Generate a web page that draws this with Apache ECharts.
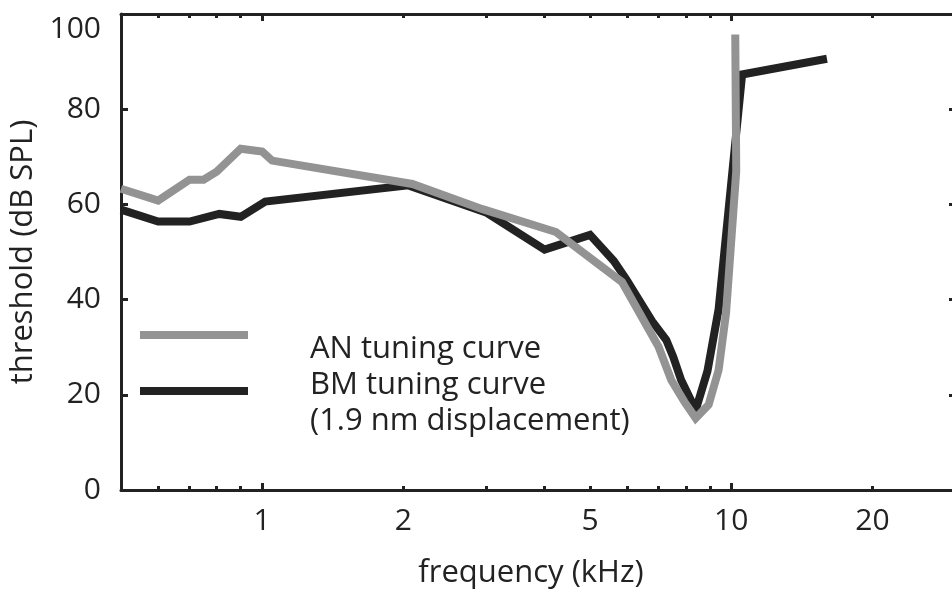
<!DOCTYPE html>
<html>
<head>
<meta charset="utf-8">
<script src="https://cdn.jsdelivr.net/npm/echarts@6/dist/echarts.min.js"></script>
<style>html,body{margin:0;padding:0;background:#fff}#c{width:952px;height:599px}</style>
</head>
<body>
<div id="c"></div>
<script>
// frequency in kHz, threshold in dB SPL
const anFreq = [0.5, 0.6, 0.7, 0.75, 0.8, 0.9, 1.0, 1.05, 2.09, 2.95, 4.23, 5.85, 7.0, 7.45, 7.95, 8.4, 8.95, 9.4, 9.75, 10.25, 10.2];
const anThr  = [63.3, 60.8, 65.2, 65.2, 66.9, 71.7, 71.1, 69.2, 64.3, 59.0, 54.2, 43.7, 30.1, 23.1, 18.5, 15.1, 17.9, 25.2, 37.2, 67.0, 95.7];
const bmFreq = [0.5, 0.6, 0.7, 0.81, 0.9, 1.015, 2.05, 3.0, 4.0, 5.0, 5.62, 5.98, 6.78, 7.27, 7.52, 7.82, 8.4, 8.9, 9.4, 10.55, 16.0];
const bmThr  = [58.9, 56.4, 56.4, 58.0, 57.4, 60.6, 64.0, 58.3, 50.5, 53.6, 48.1, 44.2, 35.5, 31.5, 28.0, 23.1, 16.8, 25.0, 38.0, 87.3, 90.6];
const xLabelValues = [1, 2, 5, 10, 20];
const xMinorTicks = [0.6, 0.7, 0.8, 0.9, 2, 3, 4, 5, 6, 7, 8, 9, 20];
const xMajorTicks = [1, 10];
const xMin = 0.5, xMax = 30;
const yMin = 0, yMax = 100, yStep = 20;

const L = v => Math.log10(v);
const toPts = (fs, vs) => fs.map((f, i) => [L(f), vs[i]]);
const FONT = 'Open Sans';
const AX = '#222222';
const gridRect = { left: 121, right: -3, top: 14, bottom: 109, outerBoundsMode: 'none' };

function xAx(grid, pos, ticks, len, labels) {
  const a = {
    type: 'value', gridIndex: grid, position: pos,
    min: L(xMin), max: L(xMax),
    axisLine: { show: grid === 0, onZero: false, lineStyle: { color: AX, width: 3 } },
    splitLine: { show: false },
    axisTick: { show: true, inside: true, length: len, customValues: ticks.map(L), lineStyle: { color: AX, width: 3 } },
    axisLabel: { show: false }
  };
  if (labels) {
    a.axisLabel = {
      show: true, customValues: labels.map(L), margin: 16,
      fontFamily: FONT, fontSize: 30, color: '#222',
      formatter: v => String(Math.round(Math.pow(10, v)))
    };
    a.name = 'frequency (kHz)';
    a.nameLocation = 'middle';
    a.nameGap = 68;
    a.nameTextStyle = { fontFamily: FONT, fontSize: 31, color: '#222', padding: [0, 14, 0, 0] };
  }
  return a;
}
function yAx(grid, pos, labels, len) {
  const a = {
    type: 'value', gridIndex: grid, position: pos, min: yMin, max: yMax, interval: yStep,
    show: grid === 0,
    axisLine: { show: true, onZero: false, lineStyle: { color: AX, width: 3 } },
    splitLine: { show: false },
    axisTick: { show: true, inside: true, length: len, lineStyle: { color: AX, width: 3 } },
    axisLabel: { show: false }
  };
  if (labels) {
    a.axisLabel = { show: true, margin: 20, fontFamily: FONT, fontSize: 30, color: '#222', verticalAlignMaxLabel: 'top' };
    a.name = 'threshold (dB SPL)';
    a.nameLocation = 'middle';
    a.nameGap = 80;
    a.nameTextStyle = { fontFamily: FONT, fontSize: 31, color: '#222' };
  }
  return a;
}

const chart = echarts.init(document.getElementById('c'), null, { renderer: 'canvas' });
chart.setOption({
  animation: false,
  backgroundColor: '#fff',
  grid: [Object.assign({}, gridRect), Object.assign({}, gridRect)],
  xAxis: [
    xAx(0, 'bottom', xMinorTicks, 4, xLabelValues),
    xAx(0, 'top', xMinorTicks, 4, null),
    xAx(1, 'bottom', xMajorTicks, 7, null),
    xAx(1, 'top', xMajorTicks, 7, null)
  ],
  yAxis: [
    yAx(0, 'left', true, 7),
    yAx(0, 'right', false, 6),
    yAx(1, 'left', false, 7)
  ],
  series: [
    { name: 'BM tuning curve', type: 'line', xAxisIndex: 0, yAxisIndex: 0, data: toPts(bmFreq, bmThr),
      symbol: 'none', lineStyle: { color: '#222222', width: 8, join: 'miter', cap: 'butt' }, z: 3 },
    { name: 'AN tuning curve', type: 'line', xAxisIndex: 0, yAxisIndex: 0, data: toPts(anFreq, anThr),
      symbol: 'none', lineStyle: { color: '#939393', width: 8, join: 'miter', cap: 'butt' }, z: 4 }
  ],
  graphic: [
    { type: 'line', shape: { x1: 140, y1: 335, x2: 248, y2: 335 }, style: { stroke: '#939393', lineWidth: 8 } },
    { type: 'line', shape: { x1: 140, y1: 391, x2: 248, y2: 391 }, style: { stroke: '#222222', lineWidth: 8 } },
    { type: 'text', x: 310, y: 349, style: { text: 'AN tuning curve', font: '31px "Open Sans"', fill: '#222', verticalAlign: 'middle' } },
    { type: 'text', x: 310, y: 385, style: { text: 'BM tuning curve', font: '31px "Open Sans"', fill: '#222', verticalAlign: 'middle' } },
    { type: 'text', x: 310, y: 421, style: { text: '(1.9 nm displacement)', font: '31px "Open Sans"', fill: '#222', verticalAlign: 'middle' } }
  ]
});
</script>
</body>
</html>
